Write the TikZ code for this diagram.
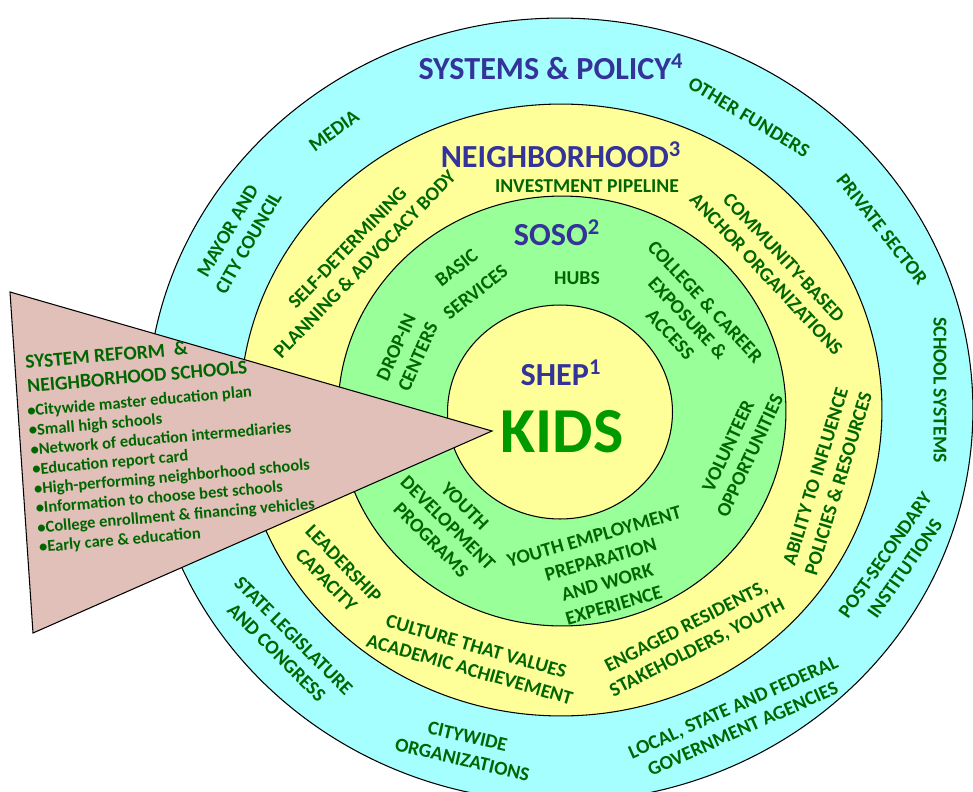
\documentclass[tikz,border=0pt]{standalone}
\usepackage{fontspec}
\setmainfont{Carlito}
\usepackage{xcolor}
\usepackage{tikz}
\usetikzlibrary{positioning}

\definecolor{cyanring}{RGB}{166,255,255}
\definecolor{yellowring}{RGB}{255,255,153}
\definecolor{greenring}{RGB}{153,255,153}
\definecolor{reformpink}{RGB}{224,192,184}
\definecolor{labelgreen}{RGB}{0,102,0}
\definecolor{headblue}{RGB}{51,51,153}
\definecolor{kidsgreen}{RGB}{0,153,0}

\newcommand{\ringfont}{\fontsize{11.2}{13.6}\selectfont\bfseries}
\newcommand{\headfont}{\fontsize{18.3}{20}\selectfont\bfseries}

\begin{document}
\begin{tikzpicture}[
    x=0.02cm, y=-0.02cm,
    ring/.style={draw=black, line width=0.6pt},
    lbl/.style={font=\ringfont, text=labelgreen, align=center, inner sep=0pt},
    head/.style={font=\headfont, text=headblue, inner sep=0pt},
    reform/.style={text=labelgreen, align=left, inner sep=0pt, rotate=5, anchor=west}
]
\useasboundingbox (0,0) rectangle (973,791);
\clip (0,0) rectangle (973,791);

% Rings
\draw[ring, fill=cyanring] (560,410) ellipse [x radius=8.26cm, y radius=7.84cm];
\draw[ring, fill=yellowring] (561,410) ellipse [x radius=6.42cm, y radius=6.12cm];
\draw[ring, fill=greenring] (562,411) ellipse [x radius=4.48cm, y radius=4.30cm];
\draw[ring, fill=yellowring] (560,412) ellipse [x radius=2.25cm, y radius=2.14cm];

% Reform wedge
\coordinate (wedgetop) at (10,292);
\coordinate (wedgetip) at (492,431);
\coordinate (wedgebot) at (33,633);
\draw[ring, fill=reformpink] (wedgetop) -- (wedgetip) -- (wedgebot) -- cycle;

\node[reform, font=\fontsize{11.2}{13.6}\selectfont\bfseries] (reformtitle) at (26,374)
    {SYSTEM REFORM\ \ \&\\NEIGHBORHOOD SCHOOLS};
\node[reform, font=\fontsize{9.4}{11.1}\selectfont\bfseries] (reformlist) at (33,480)
    {•Citywide master education plan\\
     •Small high schools\\
     •Network of education intermediaries\\
     •Education report card\\
     •High-performing neighborhood schools\\
     •Information to choose best schools\\
     •College enrollment \& financing vehicles\\
     •Early care \& education};

% Systems & policy ring
\node[head] (systems) at (551,67) {SYSTEMS \& POLICY\textsuperscript{4}};
\node[lbl, rotate=-31] (funders) at (749,117) {OTHER FUNDERS};
\node[lbl, rotate=-52] (private) at (882,229) {PRIVATE SECTOR};
\node[lbl, rotate=-90] (schoolsys) at (940,390) {SCHOOL SYSTEMS};
\node[lbl, rotate=55] (postsec) at (895,562) {POST-SECONDARY\\INSTITUTIONS};
\node[lbl, rotate=24] (agencies) at (738,718) {LOCAL, STATE AND FEDERAL\\GOVERNMENT AGENCIES};
\node[lbl, rotate=-13] (citywide) at (465,748) {CITYWIDE\\ORGANIZATIONS};
\node[lbl, rotate=-45] (legislature) at (285,644) {STATE LEGISLATURE\\AND CONGRESS};
\node[lbl, rotate=60] (mayor) at (238,237) {MAYOR AND\\CITY COUNCIL};
\node[lbl, rotate=36] (media) at (334,131) {MEDIA};

% Neighborhood ring
\node[head] (neighborhood) at (561,155) {NEIGHBORHOOD\textsuperscript{3}};
\node[lbl] (pipeline) at (587,186) {INVESTMENT PIPELINE};
\node[lbl, rotate=46] (selfdet) at (356,256) {SELF-DETERMINING\\PLANNING \& ADVOCACY BODY};
\node[lbl, rotate=-47] (anchororg) at (775,266) {COMMUNITY-BASED\\ANCHOR ORGANIZATIONS};
\node[lbl, rotate=73] (ability) at (827,480) {ABILITY TO INFLUENCE\\POLICIES \& RESOURCES};
\node[lbl, rotate=27] (engaged) at (692,638) {ENGAGED RESIDENTS,\\STAKEHOLDERS, YOUTH};
\node[lbl, rotate=-16] (culture) at (473,658) {CULTURE THAT VALUES\\ACADEMIC ACHIEVEMENT};
\node[lbl, rotate=-46] (leadership) at (335,572) {LEADERSHIP\\CAPACITY};

% SOSO ring
\node[head] (soso) at (557,233) {SOSO\textsuperscript{2}};
\node[lbl] (hubs) at (577,278) {HUBS};
\node[lbl, rotate=38] (basic) at (466,280) {BASIC\\[4pt]SERVICES};
\node[lbl, rotate=66] (dropin) at (407,352) {DROP-IN\\CENTERS};
\node[lbl, rotate=-47] (college) at (688,318) {COLLEGE \& CAREER\\EXPOSURE \&\\ACCESS};
\node[lbl, rotate=65] (volunteer) at (739,451) {VOLUNTEER\\OPPORTUNITIES};
\node[lbl, rotate=16] (youthemp) at (604,571) {YOUTH EMPLOYMENT\\PREPARATION\\AND WORK\\EXPERIENCE};
\node[lbl, rotate=-45] (youthdev) at (448,523) {YOUTH\\DEVELOPMENT\\PROGRAMS};

% SHEP core
\node[head] (shep) at (561,373) {SHEP\textsuperscript{1}};
\node[font=\fontsize{36.5}{40}\selectfont\bfseries, text=kidsgreen, inner sep=0pt] (kids) at (562,432) {KIDS};

\end{tikzpicture}
\end{document}
